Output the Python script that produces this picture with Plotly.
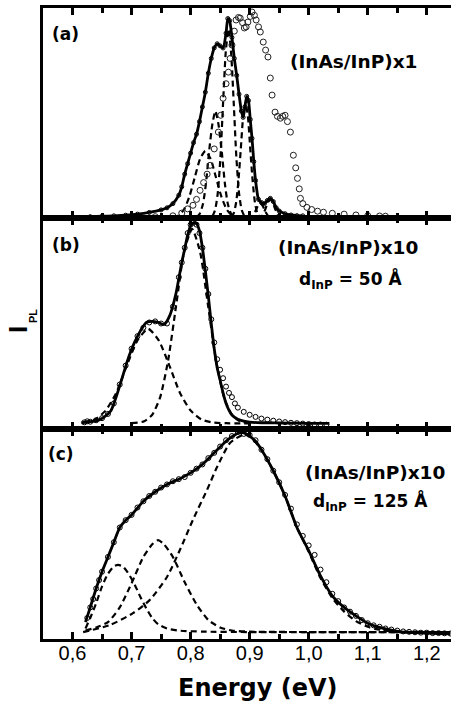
import plotly.graph_objects as go

# ---------------- Panel (a): (InAs/InP)x1 ----------------
a_fit_E = [0.63, 0.65, 0.67, 0.69, 0.71, 0.73, 0.75, 0.76, 0.77, 0.78, 0.785, 0.79, 0.795, 0.80, 0.805,
           0.81, 0.815, 0.82, 0.825, 0.83, 0.835, 0.84, 0.845, 0.85, 0.855, 0.86, 0.863, 0.866, 0.87,
           0.874, 0.878, 0.882, 0.886, 0.889, 0.892, 0.895, 0.898, 0.901, 0.904, 0.907, 0.91, 0.915,
           0.92, 0.925, 0.93, 0.935, 0.94, 0.945, 0.95, 0.96, 0.97, 0.98, 0.99]
a_fit_I = [0.008, 0.01, 0.012, 0.015, 0.02, 0.028, 0.04, 0.05, 0.07, 0.11, 0.15, 0.21, 0.26, 0.31, 0.36,
           0.40, 0.46, 0.53, 0.60, 0.69, 0.76, 0.81, 0.83, 0.82, 0.81, 0.88, 0.95, 0.94, 0.86,
           0.76, 0.68, 0.59, 0.51, 0.48, 0.53, 0.58, 0.56, 0.47, 0.38, 0.27, 0.18, 0.09,
           0.075, 0.07, 0.085, 0.095, 0.08, 0.05, 0.035, 0.022, 0.016, 0.013, 0.012]

a_ref_E = [0.70, 0.74, 0.77, 0.785, 0.795, 0.804, 0.81, 0.816, 0.822, 0.828, 0.833, 0.84, 0.847, 0.851,
           0.855, 0.86, 0.864, 0.867, 0.870, 0.874, 0.877, 0.881, 0.884, 0.888, 0.891, 0.894, 0.897,
           0.901, 0.904, 0.908, 0.911, 0.915, 0.918, 0.923, 0.927, 0.931, 0.935, 0.938, 0.943, 0.947,
           0.952, 0.956, 0.960, 0.964, 0.969, 0.974, 0.978, 0.981, 0.984, 0.986, 0.99, 0.997, 1.005,
           1.015, 1.025, 1.04, 1.06, 1.08, 1.10, 1.12, 1.13]
a_ref_I = [0.005, 0.008, 0.012, 0.025, 0.045, 0.062, 0.09, 0.133, 0.17, 0.21, 0.252, 0.33, 0.41, 0.49,
           0.571, 0.64, 0.695, 0.76, 0.824, 0.89, 0.943, 0.955, 0.952, 0.93, 0.905, 0.91, 0.933,
           0.96, 0.981, 0.965, 0.943, 0.91, 0.886, 0.838, 0.80, 0.767, 0.667, 0.586, 0.505, 0.485,
           0.476, 0.485, 0.49, 0.46, 0.41, 0.30, 0.24, 0.19, 0.14, 0.095, 0.07, 0.052, 0.042,
           0.034, 0.029, 0.024, 0.02, 0.016, 0.013, 0.011, 0.01]

a_c0_E = [0.771, 0.780, 0.789, 0.798, 0.807, 0.816, 0.825, 0.834, 0.843, 0.852, 0.861, 0.870, 0.879]
a_c0_I = [0.004, 0.014, 0.043, 0.104, 0.194, 0.282, 0.32, 0.282, 0.194, 0.104, 0.043, 0.014, 0.004]
a_c1_E = [0.810, 0.8155, 0.821, 0.826, 0.831, 0.837, 0.842, 0.847, 0.853, 0.858, 0.863, 0.8685, 0.874]
a_c1_I = [0.006, 0.022, 0.069, 0.166, 0.31, 0.45, 0.51, 0.45, 0.31, 0.166, 0.069, 0.022, 0.006]
a_c2_E = [0.837, 0.8415, 0.846, 0.8505, 0.855, 0.8595, 0.864, 0.8685, 0.873, 0.8775, 0.882, 0.8865, 0.891]
a_c2_I = [0.01, 0.04, 0.12, 0.29, 0.55, 0.79, 0.90, 0.79, 0.55, 0.29, 0.12, 0.04, 0.01]
a_c3_E = [0.869, 0.873, 0.877, 0.881, 0.885, 0.889, 0.893, 0.897, 0.901, 0.905, 0.909, 0.913, 0.917]
a_c3_I = [0.006, 0.024, 0.074, 0.18, 0.33, 0.485, 0.55, 0.485, 0.33, 0.18, 0.074, 0.024, 0.006]
a_c4_E = [0.897, 0.9005, 0.904, 0.9075, 0.911, 0.9145, 0.918, 0.9215, 0.925, 0.9285, 0.932, 0.9355, 0.939]
a_c4_I = [0.001, 0.003, 0.009, 0.023, 0.042, 0.062, 0.07, 0.062, 0.042, 0.023, 0.009, 0.003, 0.001]
a_c5_E = [0.914, 0.9175, 0.921, 0.9245, 0.928, 0.9315, 0.935, 0.9385, 0.942, 0.9455, 0.949, 0.9525, 0.956]
a_c5_I = [0.001, 0.004, 0.012, 0.029, 0.055, 0.079, 0.09, 0.079, 0.055, 0.029, 0.012, 0.004, 0.001]

# ---------------- Panel (b): (InAs/InP)x10, d=50 A ----------------
b_data_E = [0.62, 0.625, 0.63, 0.64, 0.65, 0.66, 0.67, 0.68, 0.69, 0.70, 0.71, 0.72, 0.73, 0.74, 0.75,
            0.76, 0.77, 0.78, 0.785, 0.79, 0.795, 0.80, 0.805, 0.81, 0.815, 0.82, 0.825, 0.83, 0.835,
            0.84, 0.845, 0.85, 0.855, 0.86, 0.865, 0.87, 0.875, 0.88, 0.89, 0.90, 0.91, 0.92, 0.93,
            0.94, 0.95, 0.96, 0.97, 0.98, 0.99, 1.00, 1.01, 1.02, 1.03]
b_data_I = [0.03, 0.035, 0.033, 0.04, 0.05, 0.07, 0.12, 0.21, 0.30, 0.38, 0.44, 0.48, 0.505, 0.51, 0.50,
            0.50, 0.58, 0.72, 0.79, 0.86, 0.93, 0.97, 0.98, 0.97, 0.93, 0.86, 0.76, 0.64, 0.52,
            0.41, 0.33, 0.28, 0.24, 0.20, 0.17, 0.15, 0.12, 0.10, 0.08, 0.066, 0.056, 0.048, 0.043,
            0.038, 0.034, 0.031, 0.028, 0.026, 0.024, 0.022, 0.02, 0.02, 0.019]
b_fit_E = [0.615, 0.63, 0.645, 0.655, 0.665, 0.675, 0.685, 0.695, 0.705, 0.715, 0.725, 0.735, 0.745,
           0.755, 0.765, 0.775, 0.785, 0.79, 0.795, 0.80, 0.805, 0.81, 0.815, 0.82, 0.825, 0.83, 0.835,
           0.84, 0.845, 0.85, 0.855, 0.86, 0.87, 0.88, 0.89, 0.90, 0.92, 0.95, 0.98, 1.01, 1.035]
b_fit_I = [0.028, 0.033, 0.042, 0.058, 0.085, 0.16, 0.25, 0.34, 0.41, 0.465, 0.505, 0.51, 0.505,
           0.495, 0.54, 0.64, 0.79, 0.855, 0.92, 0.965, 0.98, 0.975, 0.94, 0.86, 0.75, 0.63, 0.50,
           0.38, 0.29, 0.23, 0.17, 0.12, 0.065, 0.045, 0.036, 0.031, 0.028, 0.027, 0.026, 0.025, 0.025]
b_d1_E = [0.618, 0.638, 0.656, 0.674, 0.692, 0.71, 0.728, 0.746, 0.764, 0.782, 0.80, 0.818, 0.836, 0.86, 0.90]
b_d1_I = [0.03, 0.044, 0.086, 0.17, 0.30, 0.42, 0.475, 0.42, 0.30, 0.17, 0.086, 0.044, 0.030, 0.026, 0.025]
b_d2_E = [0.70, 0.7215, 0.735, 0.7485, 0.762, 0.7755, 0.789, 0.8025, 0.816, 0.8295, 0.843, 0.8565,
          0.87, 0.8835, 0.90]
b_d2_I = [0.026, 0.035, 0.066, 0.15, 0.326, 0.586, 0.841, 0.95, 0.841, 0.586, 0.326, 0.15,
          0.066, 0.035, 0.027]

# ---------------- Panel (c): (InAs/InP)x10, d=125 A ----------------
c_data_E = [0.625, 0.63, 0.635, 0.64, 0.645, 0.65, 0.66, 0.67, 0.68, 0.69, 0.70, 0.71, 0.72, 0.73, 0.74,
            0.75, 0.76, 0.77, 0.78, 0.79, 0.80, 0.81, 0.82, 0.83, 0.84, 0.85, 0.86, 0.87, 0.88, 0.885,
            0.89, 0.895, 0.90, 0.91, 0.92, 0.93, 0.94, 0.95, 0.96, 0.97, 0.98, 0.99, 1.00, 1.01, 1.02,
            1.03, 1.04, 1.05, 1.06, 1.07, 1.08, 1.09, 1.10, 1.11, 1.12, 1.13, 1.14, 1.15, 1.16, 1.17,
            1.18, 1.19, 1.20, 1.21, 1.22, 1.23, 1.24]
c_data_I = [0.10, 0.15, 0.19, 0.24, 0.28, 0.32, 0.39, 0.46, 0.53, 0.565, 0.59, 0.625, 0.655, 0.68, 0.70,
            0.72, 0.735, 0.75, 0.76, 0.77, 0.79, 0.81, 0.83, 0.86, 0.885, 0.915, 0.945, 0.965, 0.985, 0.99,
            0.975, 0.985, 0.97, 0.945, 0.90, 0.855, 0.80, 0.745, 0.685, 0.62, 0.545, 0.49, 0.445, 0.40, 0.33,
            0.27, 0.215, 0.18, 0.15, 0.13, 0.11, 0.09, 0.075, 0.065, 0.058, 0.05, 0.045, 0.04, 0.036, 0.034,
            0.032, 0.03, 0.03, 0.028, 0.028, 0.027, 0.026]
c_fit_E = [0.622, 0.63, 0.64, 0.65, 0.66, 0.67, 0.68, 0.69, 0.70, 0.72, 0.74, 0.76, 0.78, 0.80, 0.82,
           0.84, 0.86, 0.87, 0.88, 0.89, 0.90, 0.91, 0.92, 0.94, 0.96, 0.98, 1.00, 1.02, 1.04, 1.06,
           1.08, 1.10, 1.12, 1.14, 1.16, 1.18, 1.20, 1.22, 1.24]
c_fit_I = [0.08, 0.15, 0.24, 0.32, 0.39, 0.46, 0.53, 0.565, 0.59, 0.655, 0.70, 0.735, 0.76, 0.79, 0.83,
           0.885, 0.94, 0.962, 0.978, 0.98, 0.965, 0.94, 0.90, 0.80, 0.68, 0.53, 0.42, 0.30, 0.205, 0.15,
           0.11, 0.075, 0.055, 0.042, 0.033, 0.03, 0.028, 0.026, 0.024]
c_e1_E = [0.622, 0.63, 0.64, 0.65, 0.66, 0.67, 0.677, 0.685, 0.695, 0.705, 0.715, 0.725, 0.735, 0.745,
          0.76, 0.78, 0.82, 0.90, 1.0, 1.1, 1.24]
c_e1_I = [0.05, 0.10, 0.17, 0.25, 0.31, 0.345, 0.352, 0.345, 0.31, 0.26, 0.20, 0.145, 0.10, 0.07,
          0.05, 0.04, 0.035, 0.033, 0.033, 0.033, 0.033]
c_e2_E = [0.622, 0.64, 0.66, 0.68, 0.70, 0.72, 0.735, 0.745, 0.755, 0.77, 0.79, 0.81, 0.83, 0.85,
          0.87, 0.90, 1.0, 1.24]
c_e2_I = [0.04, 0.055, 0.08, 0.15, 0.265, 0.39, 0.45, 0.47, 0.45, 0.39, 0.27, 0.165, 0.09, 0.055,
          0.04, 0.035, 0.033, 0.033]
c_e3_E = [0.618, 0.664, 0.703, 0.731, 0.760, 0.782, 0.804, 0.828, 0.845, 0.867, 0.889, 0.90, 0.92,
          0.94, 0.96, 0.98, 1.00, 1.02, 1.04, 1.06, 1.08, 1.10, 1.12, 1.14, 1.17, 1.24]
c_e3_I = [0.033, 0.067, 0.124, 0.186, 0.295, 0.424, 0.567, 0.71, 0.819, 0.933, 0.971, 0.965, 0.90,
          0.80, 0.68, 0.53, 0.415, 0.29, 0.195, 0.13, 0.085, 0.058, 0.044, 0.037, 0.034, 0.033]

x_ticks = [0.6, 0.7, 0.8, 0.9, 1.0, 1.1, 1.2]
x_minor = [0.55, 0.65, 0.75, 0.85, 0.95, 1.05, 1.15]
x_range = [0.55, 1.241]

BLACK = "#000000"
DASH = "6px,4px"

fig = go.Figure()


def data_trace(E, I, xa, ya, size=5, lw=1.0, color=BLACK):
    return go.Scatter(x=E, y=I, mode="markers", xaxis=xa, yaxis=ya, showlegend=False,
                      marker=dict(symbol="circle-open", size=size, color=color,
                                  line=dict(width=lw, color=color)))


def line_trace(E, I, xa, ya, dash=None, width=2.8):
    return go.Scatter(x=E, y=I, mode="lines", xaxis=xa, yaxis=ya, showlegend=False,
                      line=dict(color=BLACK, width=width, dash=dash, shape="spline", smoothing=0.6))


# panel a
for E, I in [(a_c0_E, a_c0_I), (a_c1_E, a_c1_I), (a_c2_E, a_c2_I), (a_c3_E, a_c3_I),
             (a_c4_E, a_c4_I), (a_c5_E, a_c5_I)]:
    fig.add_trace(line_trace(E, I, "x", "y", dash=DASH, width=2.2))
fig.add_trace(data_trace(a_ref_E, a_ref_I, "x", "y", size=6, lw=1.0, color="#222222"))
fig.add_trace(line_trace(a_fit_E, a_fit_I, "x", "y"))
fig.add_trace(data_trace(a_fit_E, a_fit_I, "x", "y", size=4, lw=1.0))

# panel b
fig.add_trace(line_trace(b_d1_E, b_d1_I, "x2", "y2", dash=DASH, width=2.2))
fig.add_trace(line_trace(b_d2_E, b_d2_I, "x2", "y2", dash=DASH, width=2.2))
fig.add_trace(data_trace(b_data_E, b_data_I, "x2", "y2", size=5, lw=1.0))
fig.add_trace(line_trace(b_fit_E, b_fit_I, "x2", "y2"))

# panel c
for E, I in [(c_e1_E, c_e1_I), (c_e2_E, c_e2_I), (c_e3_E, c_e3_I)]:
    fig.add_trace(line_trace(E, I, "x3", "y3", dash=DASH, width=2.2))
fig.add_trace(data_trace(c_data_E, c_data_I, "x3", "y3", size=5, lw=1.0))
fig.add_trace(line_trace(c_fit_E, c_fit_I, "x3", "y3"))

xa_common = dict(range=x_range, tickvals=x_ticks, ticktext=[f"{v:.1f}".replace(".", ",") for v in x_ticks],
                 ticks="inside", ticklen=7, tickwidth=2.5, tickcolor=BLACK,
                 showline=True, linewidth=3, linecolor=BLACK, mirror="ticks",
                 showgrid=False, zeroline=False,
                 minor=dict(tickvals=x_minor, ticks="inside", ticklen=5, tickwidth=2.5, tickcolor=BLACK),
                 tickfont=dict(family="Liberation Sans, Arial, sans-serif", size=20, color=BLACK))
ya_common = dict(range=[0, 1.0], showline=True, linewidth=3, linecolor=BLACK, ticks="",
                 showticklabels=False, showgrid=False, zeroline=False)

fig.update_layout(
    width=451, height=704,
    margin=dict(l=43, r=0, t=8, b=65),
    plot_bgcolor="white", paper_bgcolor="white",
    xaxis=dict(xa_common, anchor="y", showticklabels=False),
    xaxis2=dict(xa_common, anchor="y2", showticklabels=False),
    xaxis3=dict(xa_common, anchor="y3", showticklabels=True, ticklabelstandoff=-6),
    yaxis=dict(ya_common, domain=[2 / 3, 1.0], anchor="x"),
    yaxis2=dict(ya_common, domain=[1 / 3, 2 / 3], anchor="x2"),
    yaxis3=dict(ya_common, domain=[0.0, 1 / 3], anchor="x3"),
)

BOLD = "DejaVu Sans, sans-serif"
W, H = 408.0, 631.0


def px(x):
    return (x - 43) / W


def py(y):
    return (639 - y) / H


def ann(text, x, y, size, xanchor="center", yanchor="middle", angle=0, family=BOLD):
    fig.add_annotation(text=text, x=px(x), y=py(y), xref="paper", yref="paper",
                       xanchor=xanchor, yanchor=yanchor, showarrow=False, textangle=angle,
                       font=dict(family=family, size=size, color=BLACK, weight="bold"))


ann("(a)", 50, 34, 17, xanchor="left")
ann("(InAs/InP)x1", 353, 61, 18.5)
ann("(b)", 50, 245, 17, xanchor="left")
ann("(InAs/InP)x10", 348, 248, 18.5)
ann("d<sub>InP</sub> = 50 Å", 350, 279, 17)
ann("(c)", 46, 454, 17, xanchor="left")
ann("(InAs/InP)x10", 375, 473, 18.5)
ann("d<sub>InP</sub> = 125 Å", 370, 501, 17)
ann("Energy (eV)", 258, 688, 24)
ann("I", 18.5, 329.5, 26, angle=-90, family="Liberation Sans, Arial, sans-serif")
ann("PL", 33, 316, 11, angle=-90, family="Liberation Sans, Arial, sans-serif")

fig.write_html("out.html", config={"displayModeBar": False},
               post_script="document.body.style.margin='0';document.body.style.overflow='hidden';")
